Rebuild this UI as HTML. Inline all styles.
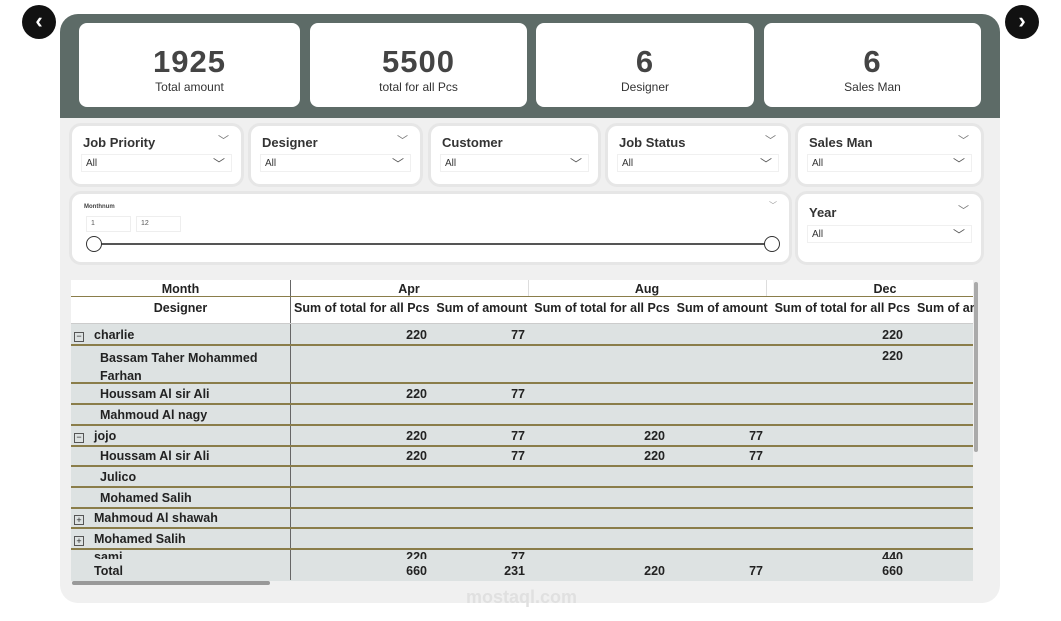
<!DOCTYPE html><html><head><style>
*{margin:0;padding:0;box-sizing:border-box}
body{width:1061px;height:621px;background:#fff;font-family:"Liberation Sans","DejaVu Sans",sans-serif;position:relative;overflow:hidden;color:#222}
.a{position:absolute}
.nav{width:34px;height:34px;border-radius:50%;background:#111;color:#fff;font-size:22px;font-weight:bold;text-align:center;line-height:32px}
.card{background:#fff;border-radius:8px;text-align:center}
.card b{display:block;font-size:31px;color:#444;margin-top:23px;letter-spacing:1px;line-height:32px}
.card span{font-size:12px;color:#333}
.sl{background:#fff;border-radius:12px;border:3px solid #e6e6e6}
.sl .t{position:absolute;left:11px;top:9px;font-size:13px;font-weight:bold;color:#333}
.sl .c1{position:absolute;right:12px;top:6px;font-size:11px;color:#777}
.sl .d{position:absolute;left:9px;right:9px;top:28px;height:18px;border:1px solid #f0f0f0;font-size:10px;padding:3px 4px;color:#333}
.sl .d i{position:absolute;right:6px;top:0;font-style:normal;font-size:12px;color:#555}
.c{position:absolute;font-size:12.5px;font-weight:bold;color:#222}
.r{text-align:right}
.hl{position:absolute;left:71px;width:902px;height:2px;background:#8a7d4a}
</style></head><body>
<div class="a nav" style="left:22px;top:5px">‹</div>
<div class="a nav" style="left:1005px;top:5px">›</div>
<div class="a" style="left:60px;top:14px;width:940px;height:589px;background:#f0f0f0;border-radius:18px"></div>
<div class="a" style="left:60px;top:14px;width:940px;height:104px;background:#5d6b67;border-radius:18px 18px 0 0"></div>
<div class="a card" style="left:79px;top:23px;width:221px;height:84px"><b>1925</b><span>Total amount</span></div>
<div class="a card" style="left:310px;top:23px;width:217px;height:84px"><b>5500</b><span>total for all Pcs</span></div>
<div class="a card" style="left:536px;top:23px;width:218px;height:84px"><b>6</b><span>Designer</span></div>
<div class="a card" style="left:764px;top:23px;width:217px;height:84px"><b>6</b><span>Sales Man</span></div>

<div class="a sl" style="left:69px;top:123px;width:175px;height:64px"><div class="t">Job Priority</div><div class="c1">﹀</div><div class="d">All<i>﹀</i></div></div>
<div class="a sl" style="left:248px;top:123px;width:175px;height:64px"><div class="t">Designer</div><div class="c1">﹀</div><div class="d">All<i>﹀</i></div></div>
<div class="a sl" style="left:428px;top:123px;width:173px;height:64px"><div class="t">Customer</div><div class="d">All<i>﹀</i></div></div>
<div class="a sl" style="left:605px;top:123px;width:186px;height:64px"><div class="t">Job Status</div><div class="c1">﹀</div><div class="d">All<i>﹀</i></div></div>
<div class="a sl" style="left:795px;top:123px;width:189px;height:64px"><div class="t">Sales Man</div><div class="c1">﹀</div><div class="d">All<i>﹀</i></div></div>

<div class="a sl" style="left:69px;top:191px;width:723px;height:74px">
<div class="a" style="left:12px;top:10px;font-size:6px;font-weight:bold;color:#444">Monthnum</div>
<div class="a" style="left:14px;top:22px;width:45px;height:16px;border:1px solid #eee;font-size:7px;padding:3px 4px;color:#555">1</div>
<div class="a" style="left:64px;top:22px;width:45px;height:16px;border:1px solid #eee;font-size:7px;padding:3px 4px;color:#555">12</div>
<div class="a" style="left:20px;top:49px;width:680px;height:2px;background:#555"></div>
<div class="a" style="left:14px;top:42px;width:16px;height:16px;border-radius:50%;border:1px solid #333;background:#fff"></div>
<div class="a" style="left:692px;top:42px;width:16px;height:16px;border-radius:50%;border:1px solid #333;background:#fff"></div>
<div class="a" style="right:12px;top:6px;font-size:8px;color:#999">﹀</div>
</div>
<div class="a sl" style="left:795px;top:191px;width:189px;height:74px"><div class="t" style="top:11px">Year</div><div class="c1" style="top:8px">﹀</div><div class="d" style="top:31px">All<i>﹀</i></div></div>

<div class="a" style="left:71px;top:280px;width:902px;height:301px;background:#dde2e2"></div>
<div class="a" style="left:71px;top:280px;width:902px;height:44px;background:#fff"></div>
<div class="a" style="left:290px;top:280px;width:1px;height:300px;background:#666"></div>
<div class="a" style="left:528px;top:280px;width:1px;height:17px;background:#ddd"></div>
<div class="a" style="left:766px;top:280px;width:1px;height:17px;background:#ddd"></div>
<div class="hl" style="top:296px;height:1px"></div>
<div class="hl" style="top:323px;height:1px;background:#ccc"></div>
<div class="hl" style="top:344px"></div><div class="hl" style="top:382px"></div><div class="hl" style="top:403px"></div><div class="hl" style="top:424px"></div><div class="hl" style="top:445px"></div><div class="hl" style="top:465px"></div><div class="hl" style="top:486px"></div><div class="hl" style="top:507px"></div><div class="hl" style="top:527px"></div><div class="hl" style="top:548px"></div>

<div class="c" style="left:71px;width:219px;top:282px;text-align:center">Month</div>
<div class="c" style="left:290px;width:238px;top:282px;text-align:center">Apr</div>
<div class="c" style="left:528px;width:238px;top:282px;text-align:center">Aug</div>
<div class="c" style="left:766px;width:238px;top:282px;text-align:center">Dec</div>
<div class="c" style="left:71px;width:219px;top:301px;text-align:center">Designer</div>
<div class="c" style="left:294px;top:301px;white-space:nowrap;width:680px;overflow:hidden">Sum of total for all Pcs&nbsp; Sum of amount&nbsp; Sum of total for all Pcs&nbsp; Sum of amount&nbsp; Sum of total for all Pcs&nbsp; Sum of am</div>

<div class="a" style="left:74px;top:332px;width:10px;height:10px;border:1px solid #555;font-size:9px;line-height:7px;text-align:center">−</div>
<div class="c" style="left:94px;top:328px">charlie</div>
<div class="c" style="left:100px;top:349px;line-height:18px">Bassam Taher Mohammed<br>Farhan</div>
<div class="c" style="left:100px;top:387px">Houssam Al sir Ali</div>
<div class="c" style="left:100px;top:408px">Mahmoud Al nagy</div>
<div class="a" style="left:74px;top:433px;width:10px;height:10px;border:1px solid #555;font-size:9px;line-height:7px;text-align:center">−</div>
<div class="c" style="left:94px;top:429px">jojo</div>
<div class="c" style="left:100px;top:449px">Houssam Al sir Ali</div>
<div class="c" style="left:100px;top:470px">Julico</div>
<div class="c" style="left:100px;top:491px">Mohamed Salih</div>
<div class="a" style="left:74px;top:515px;width:10px;height:10px;border:1px solid #555;font-size:9px;line-height:8px;text-align:center">+</div>
<div class="c" style="left:94px;top:511px">Mahmoud Al shawah</div>
<div class="a" style="left:74px;top:536px;width:10px;height:10px;border:1px solid #555;font-size:9px;line-height:8px;text-align:center">+</div>
<div class="c" style="left:94px;top:532px">Mohamed Salih</div>
<div class="c" style="left:94px;top:564px">Total</div>

<div class="c r" style="left:330px;width:97px;top:328px">220</div><div class="c r" style="left:430px;width:95px;top:328px">77</div><div class="c r" style="left:800px;width:103px;top:328px">220</div>
<div class="c r" style="left:800px;width:103px;top:349px">220</div>
<div class="c r" style="left:330px;width:97px;top:387px">220</div><div class="c r" style="left:430px;width:95px;top:387px">77</div>
<div class="c r" style="left:330px;width:97px;top:429px">220</div><div class="c r" style="left:430px;width:95px;top:429px">77</div><div class="c r" style="left:560px;width:105px;top:429px">220</div><div class="c r" style="left:670px;width:93px;top:429px">77</div>
<div class="c r" style="left:330px;width:97px;top:449px">220</div><div class="c r" style="left:430px;width:95px;top:449px">77</div><div class="c r" style="left:560px;width:105px;top:449px">220</div><div class="c r" style="left:670px;width:93px;top:449px">77</div>
<div class="a" style="left:71px;top:550px;width:902px;height:9px;overflow:hidden"><div class="c" style="left:23px;top:0">sami</div><div class="c r" style="left:259px;width:97px;top:0">220</div><div class="c r" style="left:359px;width:95px;top:0">77</div><div class="c r" style="left:729px;width:103px;top:0">440</div></div>
<div class="c r" style="left:330px;width:97px;top:564px">660</div><div class="c r" style="left:430px;width:95px;top:564px">231</div><div class="c r" style="left:560px;width:105px;top:564px">220</div><div class="c r" style="left:670px;width:93px;top:564px">77</div><div class="c r" style="left:800px;width:103px;top:564px">660</div>
<div class="a" style="left:72px;top:581px;width:198px;height:4px;background:#999;border-radius:2px"></div>
<div class="a" style="left:974px;top:282px;width:4px;height:170px;background:#aaa;border-radius:2px"></div>
<div class="a" style="left:466px;top:587px;font-size:18px;color:#e0e0e0;font-weight:bold">mostaql.com</div>
</body></html>
